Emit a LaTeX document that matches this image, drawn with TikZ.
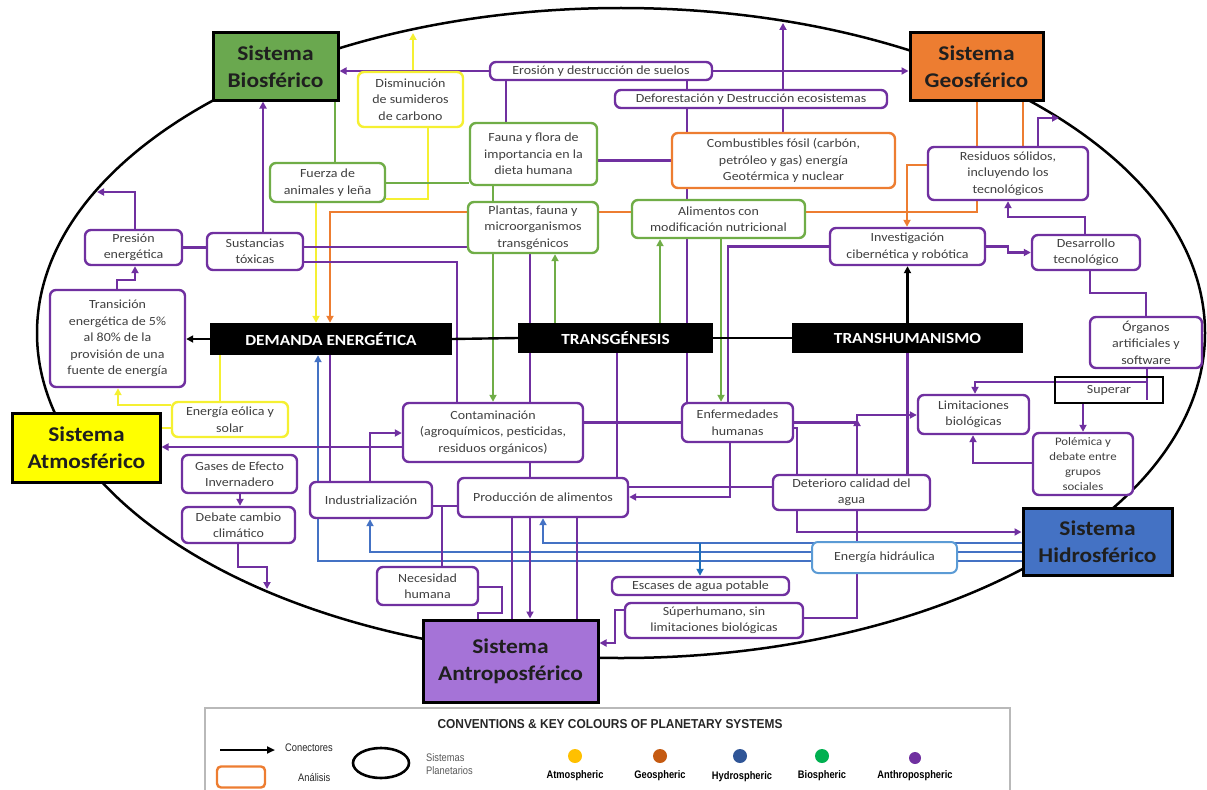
\documentclass[tikz,border=0pt]{standalone}
\usepackage{fontspec}
\setmainfont{Carlito}[FakeStretch=1.12]
\newfontfamily\legfont{Liberation Sans}[FakeStretch=0.85]
\newfontfamily\legtitlefont{Liberation Sans}[FakeStretch=0.92]
\usetikzlibrary{arrows.meta,shapes.geometric}
\pgfdeclarelayer{bg}
\pgfsetlayers{bg,main}
\definecolor{pur}{RGB}{112,48,160}
\definecolor{grn}{RGB}{112,173,71}
\definecolor{org}{RGB}{237,125,49}
\definecolor{yel}{RGB}{245,240,50}
\definecolor{blu}{RGB}{68,114,196}
\definecolor{lblu}{RGB}{91,155,213}
\definecolor{dblu}{RGB}{30,110,185}
\definecolor{txt}{RGB}{64,64,64}
\definecolor{biofill}{RGB}{106,168,79}
\definecolor{geofill}{RGB}{237,125,49}
\definecolor{atmfill}{RGB}{255,255,0}
\definecolor{hidfill}{RGB}{68,114,196}
\definecolor{antfill}{RGB}{165,115,215}
\definecolor{dotyel}{RGB}{255,192,0}
\definecolor{dotgeo}{RGB}{197,90,17}
\definecolor{dotblu}{RGB}{47,85,151}
\definecolor{dotgrn}{RGB}{0,176,80}
\definecolor{dotpur}{RGB}{112,48,160}
\newcommand\bxfont{\fontsize{12.5}{16.5}\selectfont}
\newcommand\smbxfont{\fontsize{11.5}{15}\selectfont}
\newcommand\sysfont{\fontsize{21}{27}\selectfont\bfseries}
\newcommand\banfont{\fontsize{15.5}{18}\selectfont\bfseries}
\newcommand\lgfont{\legfont\fontsize{11}{13}\selectfont}
\tikzset{
  box/.style={draw=pur, line width=2.4bp, rounded corners=6bp, fill=white, align=center, inner sep=0pt, text=txt, font=\bxfont},
  gbox/.style={box, draw=grn},
  obox/.style={box, draw=org},
  ybox/.style={box, draw=yel},
  hbox/.style={box, draw=lblu, line width=2bp},
  sysbox/.style={draw=black, line width=3bp, align=center, inner sep=0pt, font=\sysfont, text=black!88},
  banner/.style={fill=black, text=white, font=\banfont, inner sep=0pt},
  pl/.style={draw=pur, line width=2.4bp},
  gl/.style={draw=grn, line width=2.4bp},
  ol/.style={draw=org, line width=2.4bp},
  yl/.style={draw=yel, line width=2.4bp},
  bl/.style={draw=blu, line width=2bp},
  dbl/.style={draw=dblu, line width=2.4bp},
  kl/.style={draw=black, line width=2.4bp},
  arr/.style={-{Triangle[length=7bp,width=7bp]}},
  legtxt/.style={font=\lgfont, text=black!85, inner sep=0pt},
  legbold/.style={font=\lgfont\bfseries, text=black, inner sep=0pt}
}
\begin{document}
\begin{tikzpicture}[x=1bp,y=-1bp]
\useasboundingbox (0,0) rectangle (1207,790);
\coordinate (eDism) at (413,33);
\coordinate (eComb) at (783,23);
\coordinate (ePres) at (97,192);
\coordinate (eRes) at (1059,118);
\coordinate (eDeb) at (267,589);

% ---------- nodes ----------
\path
 node[sysbox, fill=biofill, minimum width=125bp, minimum height=67bp] (bio) at (275.5,66.5) {Sistema\\Biosférico}
 node[sysbox, fill=geofill, minimum width=133bp, minimum height=67bp] (geo) at (976.5,66.5) {Sistema\\Geosférico}
 node[sysbox, fill=atmfill, minimum width=147bp, minimum height=69bp] (atm) at (86.5,447.5) {Sistema\\Atmosférico}
 node[sysbox, fill=hidfill, minimum width=149bp, minimum height=67bp] (hid) at (1097.5,541.5) {Sistema\\Hidrosférico}
 node[sysbox, fill=antfill, minimum width=175bp, minimum height=82bp] (ant) at (510.5,661) {Sistema\\Antroposférico}
 node[banner, minimum width=242bp, minimum height=32bp] (dem) at (331,339) {DEMANDA ENERGÉTICA}
 node[banner, minimum width=195bp, minimum height=30bp] (tgen) at (615.5,338) {TRANSGÉNESIS}
 node[banner, minimum width=231bp, minimum height=30bp] (thum) at (907.5,338) {TRANSHUMANISMO}
 node[ybox, minimum width=105bp, minimum height=55bp] (dism) at (410.5,99.5) {Disminución\\de sumideros\\de carbono}
 node[box, minimum width=222bp, minimum height=18bp] (eros) at (601,71) {Erosión y destrucción de suelos}
 node[box, minimum width=272bp, minimum height=18bp] (defo) at (751,99) {Deforestación y Destrucción ecosistemas}
 node[gbox, minimum width=127bp, minimum height=62bp] (fauna) at (533.5,154) {Fauna y flora de\\importancia en la\\dieta humana}
 node[obox, minimum width=223bp, minimum height=55bp] (comb) at (783.5,160.5) {Combustibles fósil (carbón,\\petróleo y gas) energía\\Geotérmica y nuclear}
 node[box, minimum width=160bp, minimum height=53bp] (resid) at (1008,173.5) {Residuos sólidos,\\incluyendo los\\tecnológicos}
 node[gbox, minimum width=115bp, minimum height=39bp] (fuerza) at (327.5,182.5) {Fuerza de\\animales y leña}
 node[gbox, minimum width=130bp, minimum height=51bp] (plantas) at (533,227.5) {Plantas, fauna y\\microorganismos\\transgénicos}
 node[gbox, minimum width=173bp, minimum height=38bp] (alim) at (718.5,219) {Alimentos con\\modificación nutricional}
 node[box, minimum width=155bp, minimum height=37bp] (invest) at (907.5,246.5) {Investigación\\cibernética y robótica}
 node[box, minimum width=108bp, minimum height=35bp] (desar) at (1086,252.5) {Desarrollo\\tecnológico}
 node[box, minimum width=97bp, minimum height=35bp] (presion) at (133.5,247.5) {Presión\\energética}
 node[box, minimum width=96bp, minimum height=37bp] (sust) at (255,251.5) {Sustancias\\tóxicas}
 node[box, minimum width=135bp, minimum height=97bp] (trans) at (117.5,338.5) {Transición\\energética de 5\%\\al 80\% de la\\provisión de una\\fuente de energía}
 node[box, minimum width=112bp, minimum height=51bp] (organos) at (1146,342.5) {Órganos\\artificiales y\\software}
 node[draw=black, line width=2.2bp, inner sep=0pt, font=\bxfont, text=txt, minimum width=108bp, minimum height=26bp] (superar) at (1109,390) {Superar}
 node[box, minimum width=111bp, minimum height=39bp] (limit) at (973.5,414.5) {Limitaciones\\biológicas}
 node[box, font=\smbxfont, minimum width=100bp, minimum height=62bp] (polem) at (1083,464) {Polémica y\\debate entre\\grupos\\sociales}
 node[ybox, minimum width=116bp, minimum height=35bp] (eolica) at (230,419.5) {Energía eólica y\\solar}
 node[box, minimum width=115bp, minimum height=38bp] (gases) at (239.5,474) {Gases de Efecto\\Invernadero}
 node[box, minimum width=113bp, minimum height=36bp] (debate) at (238.5,525) {Debate cambio\\climático}
 node[box, minimum width=122bp, minimum height=36bp] (indus) at (371,500) {Industrialización}
 node[box, minimum width=180bp, minimum height=59bp] (contam) at (493,432.5) {Contaminación\\(agroquímicos, pesticidas,\\residuos orgánicos)}
 node[box, minimum width=170bp, minimum height=39bp] (prod) at (543,497.5) {Producción de alimentos}
 node[box, minimum width=111bp, minimum height=39bp] (enferm) at (737.5,422.5) {Enfermedades\\humanas}
 node[box, minimum width=157bp, minimum height=35bp] (deter) at (851.5,492.5) {Deterioro calidad del\\agua}
 node[hbox, minimum width=145bp, minimum height=31bp] (hidra) at (884.5,557.5) {Energía hidráulica}
 node[box, minimum width=101bp, minimum height=38bp] (neces) at (427.5,586) {Necesidad\\humana}
 node[box, minimum width=177bp, minimum height=18bp] (escas) at (700.5,586) {Escases de agua potable}
 node[box, minimum width=178bp, minimum height=35bp] (super) at (714,620.5) {Súperhumano, sin\\limitaciones biológicas};

% ---------- connectors (behind the boxes) ----------
\begin{pgfonlayer}{bg}
\draw[line width=2.5bp] (621,333) ellipse [x radius=584, y radius=325];
% blue (hydrospheric)
\draw[bl,arr] (hid.west |- 0,543) -| (prod.south -| 543,0);
\draw[bl,arr] (hid.west |- 0,552) -| (indus.south -| 370,0);
\draw[bl,arr] (hid.west |- 0,561) -| (dem.south -| 318,0);
\draw[dbl,arr] (700,543) -- (escas.north -| 700,0);
% orange (geospheric)
\draw[ol,arr] (geo.south -| 977,0) -- (977,212) -| (dem.north -| 330,0);
\draw[ol] (geo.south -| 1023,0) -- (resid.north -| 1023,0);
\draw[ol,arr] (resid.west |- 0,165) -| (invest.north -| 907,0);
% yellow (atmospheric)
\draw[yl,arr] (dism.north -| 413,0) -- (eDism);
\draw[yl] (dism.south -| 428,0) |- (fuerza.east |- 0,199);
\draw[yl,arr] (fuerza.south -| 316,0) -- (dem.north -| 316,0);
\draw[yl] (eolica.north -| 220,0) -- (dem.south -| 220,0);
\draw[yl,arr] (eolica.west |- 0,405) -| (trans.south -| 118,0);
\draw[yl] (atm.east |- 0,428) -- (eolica.west |- 0,428);
% green (biospheric)
\draw[gl] (bio.south -| 335,0) -- (fuerza.north -| 335,0);
\draw[gl] (fuerza.east |- 0,183) -- (fauna.west |- 0,183);
\draw[gl] (fauna.south -| 493,0) -- (plantas.north -| 493,0);
\draw[gl,arr] (plantas.south -| 493,0) -- (contam.north -| 493,0);
\draw[gl,arr] (tgen.north -| 555,0) -- (plantas.south -| 555,0);
\draw[gl,arr] (tgen.north -| 660,0) -- (alim.south -| 660,0);
\draw[gl,arr] (alim.south -| 721,0) -- (enferm.north -| 721,0);
% purple (anthropospheric)
\draw[pl,arr] (eros.west) -- (bio.east |- eros.west);
\draw[pl,arr] (eros.east) -- (geo.west |- eros.east);
\draw[pl] (eros.south -| 506,0) -- (fauna.north -| 506,0);
\draw[pl] (eros.south -| 687,0) -- (comb.north -| 687,0);
\draw[pl,arr] (comb.north -| 783,0) -- (eComb);
\draw[pl] (fauna.east |- comb.west) -- (comb.west);
\draw[pl] (comb.south -| 687,0) -- (enferm.north -| 687,0);
\draw[pl,arr] (presion.north -| 135,0) |- (ePres);
\draw[pl] (presion.east) -- (sust.west |- presion.east);
\draw[pl,arr] (trans.north -| 117,0) -- (117,280) -| (presion.south -| 135,0);
\draw[pl,arr] (sust.north -| 263,0) -- (bio.south -| 263,0);
\draw[pl] (sust.east |- 0,247) -- (plantas.west |- 0,247);
\draw[pl] (sust.east |- 0,262) -| (contam.north -| 457,0);
\draw[pl] (plantas.south -| 530,0) -- (contam.north -| 530,0);
\draw[pl] (contam.south -| 530,0) -- (prod.north -| 530,0);
\draw[pl,arr] (prod.south -| 530,0) -- (ant.north -| 530,0);
\draw[pl] (prod.south -| 512,0) -- (ant.north -| 512,0);
\draw[pl] (prod.south -| 577,0) -- (ant.north -| 577,0);
\draw[pl] (tgen.south -| 617,0) -- (prod.north -| 617,0);
\draw[pl] (invest.west) -| (enferm.north -| 728,0);
\draw[pl] (contam.east |- enferm.west) -- (enferm.west);
\draw[pl,arr] (contam.west |- 0,447) -- (atm.east |- 0,447);
\draw[pl,arr] (indus.north -| 370,0) |- (contam.west |- 0,433);
\draw[pl] (dem.south -| 330,0) -- (indus.north -| 330,0);
\draw[pl] (indus.east |- 0,506) -- (prod.west |- 0,506);
\draw[pl] (442,506) -- (neces.north -| 442,0);
\draw[pl] (neces.east |- 0,587) -- (502,587) -- (502,613) -- (478,613) -- (ant.north -| 478,0);
\draw[pl,arr] (gases.south -| 240,0) -- (debate.north -| 240,0);
\draw[pl,arr] (debate.south -| 238,0) -- (238,567) -| (eDeb);
\draw[pl,arr] (enferm.south -| 730,0) |- (prod.east |- 0,497);
\draw[pl] (deter.west |- 0,487) -- (prod.east |- 0,487);
\draw[pl] (enferm.east) -- (857,422.5);
\draw[pl,arr] (deter.north -| 857,0) -- (857,419);
\draw[pl,arr] (857,421) -- (857,415) -- (limit.west |- 0,415);
\draw[pl] (thum.south) -- (deter.north -| thum.south);
\draw[pl,arr] (enferm.east |- 0,428) -- (797,428) |- (hid.west |- 0,532);
\draw[pl] (deter.south -| 857,0) |- (super.east |- 0,618);
\draw[pl,arr] (super.west |- 0,610) -- (615,610) |- (ant.east |- 0,643);
\draw[pl,arr] (invest.east) -- (1008,246.5) |- (desar.west);
\draw[pl,arr] (desar.north -| 1085,0) |- (1008,217) -- (resid.south -| 1008,0);
\draw[pl,arr] (resid.north -| 1038,0) |- (eRes);
\draw[pl] (desar.south -| 1090,0) |- (1146,293) -- (organos.north);
\draw[pl] (organos.south -| 1147,0) -- (1147,400);
\draw[pl,arr] (1147,382) -| (limit.north -| 975,0);
\draw[pl,arr] (superar.south -| 1083,0) -- (polem.north -| 1083,0);
\draw[pl,arr] (polem.west |- 0,463) -| (limit.south -| 973,0);
% black (main concepts)
\draw[kl,arr] (dem.west) -- (trans.east |- dem.west);
\draw[kl] (dem.east) -- (tgen.west);
\draw[kl] (tgen.east) -- (thum.west);
\draw[kl,arr] (thum.north) -- (invest.south -| thum.north);
\end{pgfonlayer}

% ---------- legend ----------
\draw[gray!55, line width=1.6bp] (205,792) -- (205,708) -- (1010,708) -- (1010,792);
\node[inner sep=0pt, text=black!85, font=\legtitlefont\bfseries\fontsize{13}{15}\selectfont] (ltitle) at (610,724) {CONVENTIONS \& KEY COLOURS OF PLANETARY SYSTEMS};
\coordinate (la1) at (220,750);
\coordinate (la2) at (275,750);
\draw[line width=2bp, -{Triangle[length=8bp,width=7bp]}] (la1) -- (la2);
\node[legtxt, anchor=west] (lcon) at (285,748) {Conectores};
\node[draw=org, line width=2.4bp, rounded corners=4bp, minimum width=48bp, minimum height=21bp, inner sep=0pt] (lan) at (241,777) {};
\node[legtxt, anchor=west] (lant) at (298,778) {Análisis};
\node[ellipse, draw=black, line width=2.6bp, minimum width=56bp, minimum height=30bp, inner sep=0pt] (lell) at (381,763) {};
\node[legtxt, align=left, anchor=west, text=black!65] (lsis) at (426,764) {Sistemas\\Planetarios};
\node[circle, fill=dotyel, minimum size=14bp, inner sep=0pt] (d1) at (575,756) {};
\node[circle, fill=dotgeo, minimum size=14bp, inner sep=0pt] (d2) at (660,756) {};
\node[circle, fill=dotblu, minimum size=14bp, inner sep=0pt] (d3) at (740,756) {};
\node[circle, fill=dotgrn, minimum size=14bp, inner sep=0pt] (d4) at (822,756) {};
\node[circle, fill=dotpur, minimum size=12bp, inner sep=0pt] (d5) at (915,758) {};
\node[legbold] (l1) at (575,776) {Atmospheric};
\node[legbold] (l2) at (660,776) {Geospheric};
\node[legbold] (l3) at (742,777) {Hydrospheric};
\node[legbold] (l4) at (822,776) {Biospheric};
\node[legbold] (l5) at (915,776) {Anthropospheric};
\end{tikzpicture}
\end{document}
